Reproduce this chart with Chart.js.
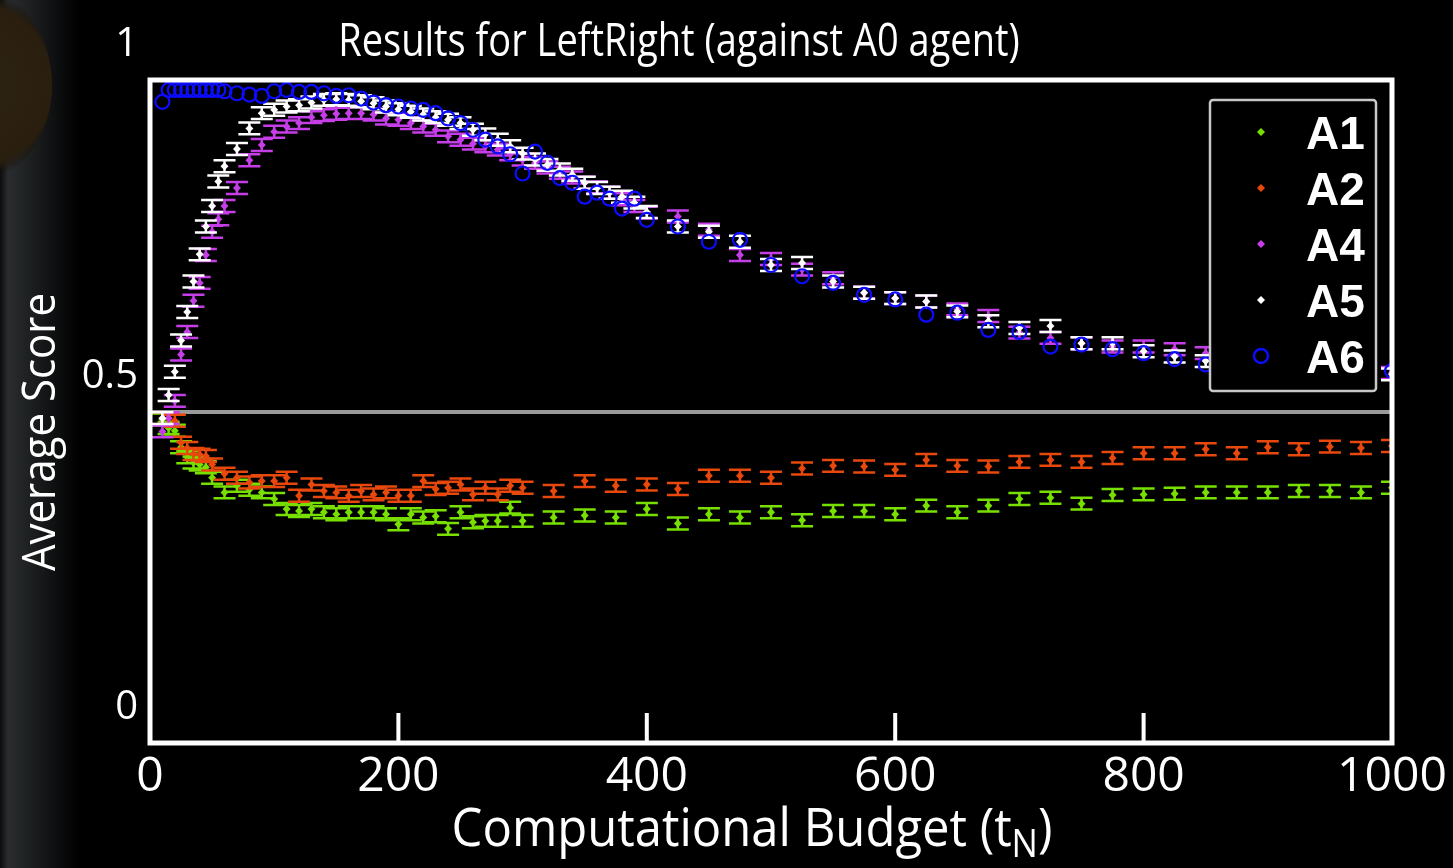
<!DOCTYPE html>
<html>
<head>
<meta charset="utf-8">
<script src="https://cdn.jsdelivr.net/npm/chart.js@4.4.1/dist/chart.umd.min.js"></script>
<style>
  html, body { margin: 0; padding: 0; background: #000; }
</style>
</head>
<body>
<canvas id="scoreChart" width="1453" height="868"></canvas>
<script>
// budgets sampled for the upper curves (A4, A5, A6)
const budgetTop = [10, 15, 20, 25, 30, 35, 40, 45, 50, 55, 60,
  70, 80, 90, 100, 110, 120, 130, 140, 150, 160, 170, 180, 190, 200,
  210, 220, 230, 240, 250, 260, 270, 280, 290, 300, 310, 320, 330, 340,
  350, 360, 370, 380, 390, 400,
  425, 450, 475, 500, 525, 550, 575, 600, 625, 650, 675, 700, 725, 750,
  775, 800, 825, 850, 875, 900, 925, 950, 975, 1000];

// budgets sampled for the lower curves (A1, A2)
const budgetLow = [10, 15, 20, 25, 30, 35, 40, 45, 50,
  60, 70, 80, 90, 100, 110, 120, 130, 140, 150, 160, 170, 180, 190, 200,
  210, 220, 230, 240, 250, 260, 270, 280, 290, 300,
  325, 350, 375, 400, 425, 450, 475, 500, 525, 550, 575, 600, 625, 650,
  675, 700, 725, 750, 775, 800, 825, 850, 875, 900, 925, 950, 975, 1000];

const scoreA1 = [0.488, 0.475, 0.471, 0.446, 0.431, 0.423, 0.420, 0.416, 0.400,
  0.378, 0.388, 0.382, 0.378, 0.368, 0.353, 0.350, 0.353, 0.348, 0.345, 0.348, 0.348, 0.348, 0.345, 0.330,
  0.345, 0.340, 0.342, 0.323, 0.348, 0.333, 0.335, 0.335, 0.355, 0.335,
  0.340, 0.343, 0.340, 0.353, 0.331, 0.345, 0.340, 0.348, 0.336, 0.350, 0.350, 0.345, 0.358, 0.348,
  0.358, 0.368, 0.370, 0.361, 0.374, 0.375, 0.376, 0.378, 0.378, 0.378, 0.380, 0.380, 0.378, 0.385];

const scoreA2 = [0.490, 0.490, 0.486, 0.453, 0.445, 0.436, 0.435, 0.433, 0.420,
  0.406, 0.400, 0.393, 0.395, 0.395, 0.400, 0.373, 0.390, 0.380, 0.378, 0.373, 0.380, 0.375, 0.378, 0.373,
  0.373, 0.395, 0.383, 0.385, 0.390, 0.375, 0.385, 0.375, 0.388, 0.385,
  0.380, 0.395, 0.388, 0.390, 0.383, 0.403, 0.403, 0.400, 0.414, 0.418, 0.417, 0.412, 0.427, 0.418,
  0.417, 0.424, 0.427, 0.424, 0.430, 0.437, 0.437, 0.443, 0.437, 0.446, 0.443, 0.447, 0.445, 0.448];

const scoreA4 = [0.470, 0.490, 0.516, 0.586, 0.620, 0.667, 0.694, 0.736, 0.771, 0.790, 0.810,
  0.837, 0.879, 0.902, 0.922, 0.930, 0.935, 0.944, 0.947, 0.949, 0.950, 0.950, 0.948, 0.942, 0.940,
  0.935, 0.930, 0.925, 0.915, 0.910, 0.904, 0.900, 0.895, 0.888, 0.880, 0.875, 0.868, 0.860, 0.853,
  0.845, 0.838, 0.830, 0.820, 0.810, 0.800,
  0.794, 0.774, 0.736, 0.730, 0.714, 0.701, 0.679, 0.671, 0.666, 0.654, 0.644, 0.619, 0.611, 0.603,
  0.598, 0.598, 0.594, 0.588, 0.580, 0.575, 0.570, 0.567, 0.562, 0.558];

const scoreA5 = [0.490, 0.525, 0.560, 0.607, 0.650, 0.696, 0.737, 0.779, 0.810, 0.847, 0.870,
  0.896, 0.927, 0.950, 0.955, 0.960, 0.962, 0.966, 0.970, 0.971, 0.970, 0.968, 0.965, 0.960, 0.956,
  0.952, 0.948, 0.944, 0.940, 0.935, 0.925, 0.918, 0.910, 0.900, 0.889, 0.880, 0.872, 0.865, 0.857,
  0.845, 0.837, 0.830, 0.824, 0.815, 0.801,
  0.779, 0.771, 0.756, 0.721, 0.724, 0.696, 0.679, 0.671, 0.666, 0.651, 0.636, 0.626, 0.629, 0.603,
  0.603, 0.591, 0.583, 0.576, 0.570, 0.566, 0.563, 0.560, 0.557, 0.556];

const scoreA6 = [0.967, 0.985, 0.985, 0.985, 0.985, 0.985, 0.985, 0.985, 0.985, 0.985, 0.983,
  0.980, 0.978, 0.976, 0.983, 0.985, 0.982, 0.982, 0.980, 0.976, 0.977, 0.972, 0.966, 0.962, 0.960,
  0.957, 0.955, 0.950, 0.942, 0.935, 0.925, 0.910, 0.900, 0.888, 0.859, 0.892, 0.875, 0.852, 0.845,
  0.824, 0.830, 0.821, 0.806, 0.821, 0.789,
  0.779, 0.756, 0.759, 0.721, 0.704, 0.694, 0.676, 0.669, 0.646, 0.649, 0.623, 0.620, 0.598, 0.601,
  0.594, 0.588, 0.579, 0.571, 0.568, 0.566, 0.564, 0.563, 0.562, 0.561];

// half-height of the error bars (score units)
const errA1 = 0.009, errA2 = 0.009, errA4 = 0.009, errA5 = 0.009;

const agentNames = ['A1', 'A2', 'A4', 'A5', 'A6'];
const xTickValues = [0, 200, 400, 600, 800, 1000];
const yTickValues = [0, 0.5, 1];

function pts(xs, ys) {
  return xs.map((x, i) => ({ x: x, y: ys[i] }));
}

// background, error bars, frame, inner ticks, legend and titles
const slidePlugin = {
  id: 'slide',
  beforeDraw(chart) {
    const { ctx, width, height } = chart;
    ctx.save();
    ctx.fillStyle = '#000';
    ctx.fillRect(0, 0, width, height);
    const g = ctx.createLinearGradient(0, 0, 80, 0);
    g.addColorStop(0, '#0c0c0c');
    g.addColorStop(0.1, '#2a2d2f');
    g.addColorStop(0.5, '#17191a');
    g.addColorStop(1, '#000');
    ctx.fillStyle = g;
    ctx.fillRect(0, 0, 80, height);
    const r = ctx.createRadialGradient(-30, 85, 10, -30, 85, 95);
    r.addColorStop(0, '#2e2414');
    r.addColorStop(0.85, '#2a1f0f');
    r.addColorStop(1, 'rgba(20,15,8,0)');
    ctx.fillStyle = r;
    ctx.beginPath();
    ctx.ellipse(-30, 85, 82, 100, 0, 0, Math.PI * 2);
    ctx.fill();
    ctx.restore();
  },
  beforeDatasetDraw(chart, args) {
    const ds = chart.data.datasets[args.index];
    if (!ds.errorBar) return;
    const { ctx, chartArea } = chart;
    const ys = chart.scales.y;
    ctx.save();
    Chart.helpers.clipArea(ctx, chartArea);
    ctx.strokeStyle = ds.borderColor;
    ctx.lineWidth = 2.5;
    ctx.beginPath();
    args.meta.data.forEach((el, i) => {
      const v = ds.data[i].y;
      const top = ys.getPixelForValue(v + ds.errorBar);
      const bot = ys.getPixelForValue(v - ds.errorBar);
      const x = el.x, w = 11;
      ctx.moveTo(x, top); ctx.lineTo(x, bot);
      ctx.moveTo(x - w, top); ctx.lineTo(x + w, top);
      ctx.moveTo(x - w, bot); ctx.lineTo(x + w, bot);
    });
    ctx.stroke();
    Chart.helpers.unclipArea(ctx);
    ctx.restore();
  },
  afterDraw(chart) {
    const { ctx, chartArea: a } = chart;
    const xs = chart.scales.x;
    ctx.save();
    // frame
    ctx.strokeStyle = '#fff';
    ctx.lineWidth = 5;
    ctx.strokeRect(a.left, a.top, a.right - a.left, a.bottom - a.top);
    // inner tick marks on the x axis
    ctx.lineWidth = 4;
    ctx.beginPath();
    xTickValues.slice(1, -1).forEach(v => {
      const px = xs.getPixelForValue(v);
      ctx.moveTo(px, a.bottom);
      ctx.lineTo(px, a.bottom - 30);
    });
    ctx.stroke();

    // legend box
    const bx = 1210, by = 100, bw = 166, bh = 291;
    ctx.fillStyle = '#000';
    ctx.strokeStyle = '#c8c8c8';
    ctx.lineWidth = 2.5;
    ctx.beginPath();
    ctx.roundRect(bx, by, bw, bh, 3);
    ctx.fill();
    ctx.stroke();
    chart.data.datasets.forEach((ds, i) => {
      const cy = by + 32 + i * 56;
      ctx.fillStyle = ds.backgroundColor;
      ctx.strokeStyle = ds.borderColor;
      Chart.helpers.drawPoint(ctx, {
        pointStyle: ds.pointStyle, radius: ds.pointRadius,
        borderWidth: ds.borderWidth, rotation: 0
      }, bx + 51, cy);
      ctx.fillStyle = '#fff';
      ctx.font = 'bold 46px "Liberation Sans", Arial, sans-serif';
      ctx.textBaseline = 'alphabetic';
      ctx.textAlign = 'left';
      ctx.fillText(ds.label, bx + 96, cy + 17);
    });

    // chart title
    ctx.fillStyle = '#fff';
    ctx.textAlign = 'center';
    ctx.save();
    ctx.translate(679, 56);
    ctx.scale(1, 1.2);
    ctx.font = '38px "Open Sans", sans-serif';
    ctx.fillText('Results for LeftRight (against A0 agent)', 0, 0);
    ctx.restore();

    // y title
    ctx.save();
    ctx.translate(55, 432);
    ctx.rotate(-Math.PI / 2);
    ctx.scale(1, 1.1);
    ctx.font = '42px "Open Sans", sans-serif';
    ctx.fillText('Average Score', 0, 0);
    ctx.restore();

    // x title with subscript N
    ctx.save();
    ctx.translate(0, 846);
    ctx.scale(1, 1.08);
    ctx.textAlign = 'left';
    const main = 'Computational Budget (t';
    ctx.font = '49px "Open Sans", sans-serif';
    const w1 = ctx.measureText(main).width;
    ctx.font = '35px "Open Sans", sans-serif';
    const w2 = ctx.measureText('N').width;
    ctx.font = '49px "Open Sans", sans-serif';
    const w3 = ctx.measureText(')').width;
    const x0 = 752 - (w1 + w2 + w3) / 2;
    ctx.fillText(main, x0, 0);
    ctx.font = '35px "Open Sans", sans-serif';
    ctx.fillText('N', x0 + w1, 10);
    ctx.font = '49px "Open Sans", sans-serif';
    ctx.fillText(')', x0 + w1 + w2, 0);
    ctx.restore();
    ctx.restore();
  }
};

const ctx = document.getElementById('scoreChart').getContext('2d');
const scoreChart = new Chart(ctx, {
  type: 'scatter',
  data: {
    datasets: [
      { label: agentNames[0], data: pts(budgetLow, scoreA1), errorBar: errA1, order: 5,
        backgroundColor: '#78e000', borderColor: '#78e000', pointStyle: 'rectRot', pointRadius: 4, borderWidth: 0 },
      { label: agentNames[1], data: pts(budgetLow, scoreA2), errorBar: errA2, order: 4,
        backgroundColor: '#e8480c', borderColor: '#e8480c', pointStyle: 'rectRot', pointRadius: 4, borderWidth: 0 },
      { label: agentNames[2], data: pts(budgetTop, scoreA4), errorBar: errA4, order: 3,
        backgroundColor: '#c63ee8', borderColor: '#c63ee8', pointStyle: 'rectRot', pointRadius: 4, borderWidth: 0 },
      { label: agentNames[3], data: pts(budgetTop, scoreA5), errorBar: errA5, order: 2,
        backgroundColor: '#ffffff', borderColor: '#ffffff', pointStyle: 'rectRot', pointRadius: 4, borderWidth: 0 },
      { label: agentNames[4], data: pts(budgetTop, scoreA6), order: 1,
        backgroundColor: 'rgba(0,0,0,0)', borderColor: '#0c0cff', pointStyle: 'circle', pointRadius: 7, borderWidth: 2.2 }
    ]
  },
  options: {
    responsive: false,
    animation: false,
    devicePixelRatio: 1,
    layout: { padding: { left: 0, right: 61, top: 80, bottom: 0 } },
    plugins: {
      legend: { display: false },
      title: { display: false },
      tooltip: { enabled: false }
    },
    datasets: { scatter: { clip: 0 } },
    scales: {
      x: {
        type: 'linear',
        min: 0, max: 1000,
        afterBuildTicks: s => { s.ticks = xTickValues.map(v => ({ value: v })); },
        afterFit: s => { s.height = 125; },
        grid: { display: false, drawTicks: false },
        border: { display: false },
        ticks: {
          color: '#fff', padding: 6, maxRotation: 0, autoSkip: false,
          callback: v => String(v),
          font: { family: '"Open Sans", sans-serif', size: 48 }
        }
      },
      y: {
        type: 'linear',
        min: 0, max: 1,
        afterBuildTicks: s => { s.ticks = yTickValues.map(v => ({ value: v })); },
        afterFit: s => { s.width = 150; },
        grid: {
          drawTicks: false,
          lineWidth: 4,
          color: c => (c.tick && c.tick.value === 0.5 ? '#9a9a9a' : 'rgba(0,0,0,0)')
        },
        border: { display: false },
        ticks: {
          color: '#fff', padding: 12, labelOffset: -35,
          callback: v => String(v),
          font: { family: '"Open Sans", sans-serif', size: 40 }
        }
      }
    }
  },
  plugins: [slidePlugin]
});
</script>
</body>
</html>
